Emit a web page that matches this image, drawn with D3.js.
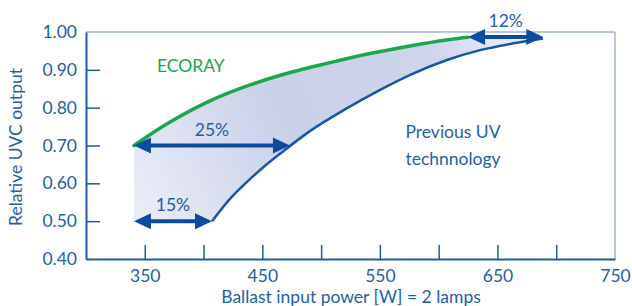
<!DOCTYPE html>
<html>
<head>
<meta charset="utf-8">
<script src="https://cdn.jsdelivr.net/npm/d3@7"></script>
<style>
  html, body { margin: 0; padding: 0; background: #ffffff; }
  svg { display: block; }
  text { font-family: Lato, "Open Sans", sans-serif; }
</style>
</head>
<body>
<svg id="chart" width="632" height="306"></svg>
<script>
// ---- data ----
const xTicks = [350, 400, 450, 500, 550, 600, 650, 700, 750];
const xTickLabels = ["350", "", "450", "", "550", "", "650", "", "750"];
const yTicks = [0.40, 0.50, 0.60, 0.70, 0.80, 0.90, 1.00];
const yTickLabels = ["0.40", "0.50", "0.60", "0.70", "0.80", "0.90", "1.00"];

// ECORAY curve (ballast power W, relative UVC output)
const ecorayPower  = [340.8, 371.5, 405.5, 439.5, 473.6, 507.6, 541.6, 575.6, 609.6, 625.0];
const ecorayOutput = [0.700, 0.762, 0.818, 0.860, 0.893, 0.919, 0.943, 0.963, 0.980, 0.986];

// Previous UV technology curve
const prevPower  = [407.2, 422.5, 437.0, 450.6, 465.0, 490.5, 521.8, 550.2, 578.2, 607.1, 635.2, 663.2, 688.8];
const prevOutput = [0.500, 0.559, 0.604, 0.642, 0.678, 0.738, 0.798, 0.847, 0.890, 0.926, 0.952, 0.970, 0.983];

// Double arrows: labels, start power, end power, output level
const arrowLabels = ["25%", "15%", "12%"];
const arrowStart  = [340.8, 340.8, 625];
const arrowEnd    = [473.5, 407.2, 689];
const arrowLevel  = [0.70, 0.50, 0.987];

// ---- layout ----
const svg = d3.select("#chart");
const x = d3.scaleLinear().domain([300, 750]).range([86, 615]);
const y = d3.scaleLinear().domain([0.4, 1.0]).range([259, 32]);

const textBlue = "#1f5ea8";
const axisBlue = "#1b5aa6";
const frameBlue = "#9fb3da";
const arrowBlue = "#0c4c9f";
const green = "#1ea64c";
const lineBlue = "#1556a6";

// gradient for shaded band
const defs = svg.append("defs");
const grad = defs.append("linearGradient")
  .attr("id", "band").attr("gradientUnits", "userSpaceOnUse")
  .attr("x1", x(340)).attr("y1", y(0.5)).attr("x2", x(689)).attr("y2", y(0.99));
grad.append("stop").attr("offset", 0).attr("stop-color", "#eceef7");
grad.append("stop").attr("offset", 0.4).attr("stop-color", "#c9d0e8");
grad.append("stop").attr("offset", 0.75).attr("stop-color", "#ced4ea");
grad.append("stop").attr("offset", 1).attr("stop-color", "#f4f5fb");

// frame (top & right)
svg.append("line").attr("x1", x(300)).attr("x2", x(750)).attr("y1", y(1)).attr("y2", y(1))
  .attr("stroke", frameBlue).attr("stroke-width", 1.5);
svg.append("line").attr("x1", x(750)).attr("x2", x(750)).attr("y1", y(1)).attr("y2", y(0.4))
  .attr("stroke", frameBlue).attr("stroke-width", 1.5);

const ecoPts = ecorayPower.map((p, i) => [x(p), y(ecorayOutput[i])]);
const prevPts = prevPower.map((p, i) => [x(p), y(prevOutput[i])]);

const lineGen = d3.line().curve(d3.curveCatmullRom.alpha(0.5));

// shaded band
const bandPath = lineGen(ecoPts) + "L" + lineGen(prevPts.slice().reverse()).slice(1)
  + "L" + x(arrowStart[1]) + "," + y(arrowLevel[1]) + "Z";
svg.append("path").attr("d", bandPath).attr("fill", "url(#band)");

// curves
svg.append("path").attr("d", lineGen(prevPts)).attr("fill", "none")
  .attr("stroke", lineBlue).attr("stroke-width", 2.5);
svg.append("path").attr("d", lineGen(ecoPts)).attr("fill", "none")
  .attr("stroke", green).attr("stroke-width", 3.5).attr("stroke-linecap", "round");

// axes
const xAxis = d3.axisBottom(x).tickValues(xTicks).tickFormat((d, i) => xTickLabels[i])
  .tickSizeInner(-14).tickSizeOuter(0).tickPadding(11);
const gx = svg.append("g").attr("transform", `translate(0,${y(0.4)})`).call(xAxis);
gx.select(".domain").attr("stroke", axisBlue).attr("stroke-width", 2);
gx.selectAll(".tick line").attr("stroke", axisBlue).attr("stroke-width", 1.5)
  .filter(d => d === 750).remove();
gx.selectAll(".tick text").attr("fill", textBlue).attr("font-size", 17.5)
  .attr("font-family", "Lato, sans-serif");

const yAxis = d3.axisLeft(y).tickValues(yTicks).tickFormat((d, i) => yTickLabels[i])
  .tickSizeInner(-14).tickSizeOuter(0).tickPadding(8);
const gy = svg.append("g").attr("transform", `translate(${x(300)},0)`).call(yAxis);
gy.select(".domain").attr("stroke", axisBlue).attr("stroke-width", 2);
gy.selectAll(".tick line").attr("stroke", axisBlue).attr("stroke-width", 1.5)
  .filter(d => d === 1.0 || d === 0.4).remove();
gy.selectAll(".tick text").attr("fill", textBlue).attr("font-size", 17.5)
  .attr("font-family", "Lato, sans-serif").attr("x", -9);

// axis titles
svg.append("text").attr("x", 351).attr("y", 303).attr("text-anchor", "middle")
  .attr("fill", textBlue).attr("font-size", 17.5).text("Ballast input power [W] = 2 lamps");
svg.append("text").attr("transform", "translate(22,147) rotate(-90)").attr("text-anchor", "middle")
  .attr("fill", textBlue).attr("font-size", 17.5).text("Relative UVC output");

// arrows
const headLen = 17, headHalf = 8;
arrowLabels.forEach((lab, i) => {
  const x0 = x(arrowStart[i]), x1 = x(arrowEnd[i]), yy = y(arrowLevel[i]);
  const g = svg.append("g");
  g.append("line").attr("x1", x0 + headLen - 2).attr("x2", x1 - headLen + 2)
    .attr("y1", yy).attr("y2", yy).attr("stroke", arrowBlue).attr("stroke-width", 4);
  g.append("path").attr("d", `M${x0},${yy}L${x0 + headLen},${yy - headHalf}L${x0 + headLen},${yy + headHalf}Z`)
    .attr("fill", arrowBlue);
  g.append("path").attr("d", `M${x1},${yy}L${x1 - headLen},${yy - headHalf}L${x1 - headLen},${yy + headHalf}Z`)
    .attr("fill", arrowBlue);
  g.append("text").attr("x", (x0 + x1) / 2).attr("y", yy - 10).attr("text-anchor", "middle")
    .attr("fill", textBlue).attr("font-size", 17.5).text(lab);
});

// series labels
svg.append("text").attr("x", 157).attr("y", 72).attr("fill", green)
  .attr("font-size", 17.5).text("ECORAY");
svg.append("text").attr("x", 453).attr("y", 138).attr("text-anchor", "middle")
  .attr("fill", textBlue).attr("font-size", 17.5).text("Previous UV");
svg.append("text").attr("x", 453).attr("y", 165).attr("text-anchor", "middle")
  .attr("fill", textBlue).attr("font-size", 17.5).text("technnology");
</script>
</body>
</html>
